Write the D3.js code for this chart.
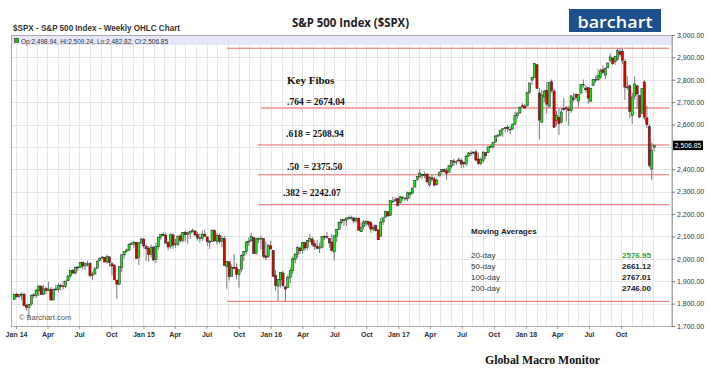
<!DOCTYPE html>
<html><head><meta charset="utf-8">
<script src="https://cdn.jsdelivr.net/npm/d3@7"></script>
<style>body{margin:0;background:#fff}svg{display:block}</style>
</head><body><svg id="c" width="710" height="372"></svg>
<script>
// ---------- DATA (weekly OHLC, S&P 500) ----------
const firstWeek = "2013-12-23";
const ohlc2013 = [[1818,1845,1818,1841],[1842,1849,1827,1831]];
const ohlc2014 = [[1832,1843,1823,1842],[1842,1851,1815,1839],[1841,1850,1790,1790],[1791,1799,1770,1783],[1783,1798,1738,1797],[1798,1840,1791,1838],[1839,1847,1824,1836],[1836,1867,1825,1859],[1858,1884,1834,1878],[1878,1883,1840,1841],[1842,1883,1839,1866],[1867,1875,1840,1858],[1859,1898,1856,1865],[1863,1873,1814,1816],[1816,1865,1816,1865],[1865,1884,1859,1863],[1864,1891,1851,1881],[1880,1889,1859,1878],[1879,1902,1862,1878],[1876,1901,1868,1901],[1902,1924,1901,1924],[1924,1949,1915,1949],[1949,1955,1934,1936],[1937,1963,1930,1963],[1963,1968,1944,1961],[1961,1985,1958,1985],[1985,1985,1952,1968],[1968,1984,1952,1978],[1978,1992,1965,1978],[1979,1985,1916,1925],[1926,1943,1905,1932],[1933,1964,1928,1955],[1958,1995,1956,1988],[1992,2006,1990,2003],[2004,2012,1998,2008],[2007,2008,1983,1986],[1986,2019,1978,2010],[2009,2009,1965,1983],[1978,1985,1926,1968],[1970,1977,1906,1906],[1905,1906,1821,1887],[1886,1965,1886,1965],[1962,2019,1940,2018],[2018,2034,2001,2032],[2032,2046,2030,2040],[2039,2071,2034,2064],[2065,2075,2064,2068],[2066,2079,2049,2075],[2074,2075,1999,2002],[2005,2077,1972,2071],[2070,2094,2069,2089],[2088,2094,2046,2058]];
const ohlc2015 = [[2055,2064,1992,2045],[2046,2056,1988,2019],[2020,2064,2005,2052],[2050,2058,1989,1995],[1997,2072,1981,2055],[2054,2097,2041,2097],[2097,2111,2085,2110],[2110,2119,2103,2105],[2105,2117,2066,2071],[2072,2080,2039,2053],[2055,2114,2045,2108],[2107,2114,2045,2061],[2064,2089,2049,2067],[2064,2103,2057,2102],[2102,2112,2073,2081],[2083,2120,2073,2118],[2119,2126,2077,2108],[2110,2121,2068,2116],[2115,2124,2089,2123],[2122,2135,2117,2126],[2125,2126,2099,2107],[2108,2121,2081,2093],[2093,2115,2072,2094],[2092,2127,2080,2110],[2110,2130,2100,2101],[2098,2099,2056,2077],[2075,2085,2044,2077],[2078,2133,2076,2127],[2126,2132,2077,2080],[2079,2115,2063,2104],[2104,2113,2068,2078],[2078,2105,2052,2092],[2090,2103,1970,1971],[1966,1989,1867,1989],[1987,1987,1903,1921],[1922,1975,1922,1961],[1963,2021,1953,1958],[1960,1980,1909,1931],[1929,1953,1872,1951],[1954,2020,1941,2015],[2016,2034,1990,2033],[2033,2080,2021,2075],[2076,2094,2058,2079],[2080,2117,2077,2099],[2096,2096,2022,2023],[2023,2097,2019,2089],[2089,2095,2070,2090],[2091,2104,2042,2092],[2091,2091,2002,2012],[2013,2077,1993,2006],[2010,2067,2005,2061],[2058,2081,2043,2044]];
const ohlc2016 = [[2038,2038,1918,1922],[1926,1950,1857,1880],[1878,1909,1812,1907],[1906,1940,1872,1940],[1937,1947,1872,1880],[1874,1881,1810,1865],[1872,1930,1872,1918],[1918,1962,1891,1948],[1947,2009,1932,2000],[1996,2023,1979,2022],[2019,2056,2003,2050],[2048,2056,2022,2036],[2038,2075,2023,2073],[2073,2075,2034,2048],[2050,2084,2039,2081],[2078,2112,2078,2092],[2088,2099,2053,2065],[2067,2083,2040,2057],[2057,2085,2043,2047],[2046,2073,2026,2052],[2052,2099,2047,2099],[2100,2106,2085,2099],[2100,2120,2089,2096],[2092,2093,2050,2071],[2075,2113,2033,2037],[2031,2103,1992,2103],[2102,2131,2074,2130],[2131,2169,2129,2162],[2162,2176,2154,2175],[2175,2177,2148,2174],[2174,2183,2148,2183],[2184,2194,2175,2184],[2184,2193,2174,2184],[2182,2188,2160,2169],[2171,2187,2162,2180],[2180,2187,2127,2128],[2121,2163,2120,2139],[2143,2175,2131,2165],[2159,2175,2145,2168],[2168,2169,2142,2154],[2161,2170,2115,2133],[2133,2149,2124,2141],[2149,2154,2122,2126],[2129,2133,2084,2085],[2100,2183,2098,2164],[2165,2189,2151,2182],[2186,2214,2184,2213],[2210,2214,2187,2192],[2194,2260,2192,2260],[2258,2278,2249,2258],[2259,2274,2255,2264],[2270,2273,2234,2239]];
const ohlc2017 = [[2251,2282,2245,2277],[2273,2280,2259,2275],[2270,2277,2259,2271],[2268,2301,2258,2295],[2286,2299,2268,2297],[2294,2320,2288,2316],[2321,2352,2319,2351],[2354,2368,2348,2367],[2366,2401,2360,2383],[2377,2380,2355,2373],[2371,2390,2360,2378],[2379,2382,2337,2344],[2330,2370,2322,2363],[2362,2378,2344,2356],[2357,2366,2328,2329],[2333,2363,2328,2349],[2370,2392,2370,2384],[2389,2400,2380,2399],[2399,2404,2384,2391],[2393,2406,2353,2382],[2387,2418,2386,2416],[2414,2441,2404,2439],[2437,2447,2415,2432],[2432,2441,2419,2433],[2442,2454,2430,2438],[2440,2450,2406,2423],[2431,2435,2407,2425],[2424,2464,2415,2459],[2459,2478,2458,2473],[2473,2484,2459,2472],[2475,2480,2466,2477],[2478,2490,2437,2441],[2446,2474,2418,2426],[2425,2454,2417,2443],[2440,2480,2429,2477],[2474,2474,2446,2461],[2474,2501,2474,2500],[2502,2509,2496,2502],[2500,2520,2491,2519],[2521,2552,2521,2549],[2548,2557,2543,2553],[2553,2575,2547,2575],[2578,2582,2545,2581],[2582,2589,2566,2588],[2588,2598,2567,2582],[2578,2594,2557,2579],[2580,2605,2577,2602],[2602,2657,2597,2642],[2640,2652,2624,2652],[2652,2680,2648,2676],[2685,2695,2673,2683],[2682,2692,2673,2674]];
const ohlc2018 = [[2683,2744,2683,2743],[2745,2787,2737,2786],[2799,2811,2777,2810],[2810,2873,2808,2873],[2867,2870,2759,2762],[2741,2763,2533,2620],[2611,2755,2605,2732],[2723,2756,2700,2747],[2753,2789,2648,2691],[2682,2787,2674,2787],[2791,2801,2741,2752],[2750,2761,2585,2588],[2619,2661,2594,2641],[2633,2672,2554,2604],[2611,2674,2605,2656],[2671,2718,2660,2670],[2675,2683,2613,2670],[2669,2683,2594,2663],[2663,2732,2652,2728],[2718,2742,2702,2713],[2735,2739,2707,2721],[2705,2737,2676,2735],[2741,2779,2735,2779],[2780,2801,2765,2780],[2763,2775,2743,2755],[2765,2765,2692,2718],[2705,2764,2698,2760],[2776,2802,2770,2801],[2797,2816,2787,2802],[2800,2849,2795,2819],[2811,2849,2806,2840],[2845,2864,2825,2833],[2821,2855,2802,2850],[2853,2877,2853,2875],[2885,2917,2878,2902],[2897,2900,2864,2872],[2880,2907,2867,2905],[2890,2941,2886,2930],[2925,2940,2903,2914],[2927,2940,2869,2886],[2882,2893,2710,2767],[2764,2816,2755,2768],[2773,2779,2628,2659],[2640,2741,2603,2723],[2727,2815,2710,2781],[2773,2775,2671,2736],[2730,2730,2631,2633],[2650,2761,2650,2760],[2790,2800,2621,2633],[2630,2685,2584,2600],[2591,2602,2409,2417],[2401,2520,2351,2486],[2499,2509,2483,2507]];

const yTicks = [1700,1800,1900,2000,2100,2200,2300,2400,2500,2600,2700,2800,2900,3000];
const yLabelTicks = [1700,1800,1900,2000,2100,2200,2300,2400,2600,2700,2800,2900,3000];
const xTickDates = ["2014-01-01","2014-04-01","2014-07-01","2014-10-01","2015-01-01","2015-04-01","2015-07-01","2015-10-01","2016-01-01","2016-04-01","2016-07-01","2016-10-01","2017-01-01","2017-04-01","2017-07-01","2017-10-01","2018-01-01","2018-04-01","2018-07-01","2018-10-01"];
const xTickLabels = ["Jan 14","Apr","Jul","Oct","Jan 15","Apr","Jul","Oct","Jan 16","Apr","Jul","Oct","Jan 17","Apr","Jul","Oct","Jan 18","Apr","Jul","Oct"];
const fibHigh = 2940.91, fibLow = 1810.10;
const fibValues = [2674.04, 2508.94, 2375.50, 2242.07];
const fibLabels = [".764 = 2674.04", ".618 = 2508.94", ".50  = 2375.50", ".382 = 2242.07"];
const maLabels = ["20-day","50-day","100-day","200-day"];
const maValues = ["2576.95","2661.12","2767.01","2746.00"];
const lastPrice = 2506.85;
const headerText = "Op:2,498.94, Hi:2,509.24, Lo:2,482.82, Cl:2,506.85";

// ---------- CHART ----------
const svg = d3.select("#c");
const X0 = 12, X1 = 672, Y0 = 35, Y1 = 326;
const parse = d3.timeParse("%Y-%m-%d");
const x = d3.scaleTime().domain([new Date(2013,11,20,12), new Date(2019,1,24)]).range([X0, X1]);
const y = d3.scaleLinear().domain([1700, 3000]).range([Y1, Y0]);

const rows = [].concat(ohlc2013, ohlc2014, ohlc2015, ohlc2016, ohlc2017, ohlc2018);
const start = parse(firstWeek);
const bars = rows.map((r, i) => ({date: d3.timeDay.offset(d3.timeMonday.offset(start, i), 4), o:r[0], h:r[1], l:r[2], c:r[3]}));

svg.append("rect").attr("width",710).attr("height",372).attr("fill","#fff");

// grid
const grid = svg.append("g").attr("stroke","#e6e6e6").attr("stroke-width",1);
grid.selectAll("line.h").data(yTicks).join("line")
  .attr("x1",X0).attr("x2",X1).attr("y1",d=>Math.round(y(d))+0.5).attr("y2",d=>Math.round(y(d))+0.5);
grid.selectAll("line.v").data(d3.timeMonth.range(new Date(2014,0,1), new Date(2019,1,1))).join("line")
  .attr("y1",Y0).attr("y2",Y1).attr("x1",d=>Math.round(x(d))+0.5).attr("x2",d=>Math.round(x(d))+0.5);

// header band
svg.append("rect").attr("x",X0).attr("y",Y0).attr("width",X1-X0).attr("height",10).attr("fill","#e4e4fa").attr("opacity",0.9);
svg.append("rect").attr("x",14.5).attr("y",38.5).attr("width",4).attr("height",4).attr("fill","#11cc11").attr("stroke","#333").attr("stroke-width",0.6);
svg.append("text").attr("x",21).attr("y",43.5).attr("font-family","Liberation Sans, Arial, sans-serif").attr("font-size",7).attr("fill","#333")
  .attr("textLength",147).attr("lengthAdjust","spacingAndGlyphs").text(headerText);

// fib lines
const fib = svg.append("g");
fib.append("line").attr("x1",227).attr("x2",669).attr("y1",y(fibHigh)).attr("y2",y(fibHigh)).attr("stroke","#e86a6a").attr("stroke-width",1);
fib.append("line").attr("x1",227).attr("x2",669).attr("y1",y(fibLow)).attr("y2",y(fibLow)).attr("stroke","#e86a6a").attr("stroke-width",1);
fib.selectAll("line.f").data(fibValues).join("line")
  .attr("x1",(d,i)=> i===0 ? 261 : 258).attr("x2",669)
  .attr("y1",d=>y(d)).attr("y2",d=>y(d))
  .attr("stroke",(d,i)=> i===0 ? "#f4a8a8" : "#e86a6a")
  .attr("stroke-width",(d,i)=> i===0 ? 2 : 1);

// candles
const cg = svg.append("g");
const bw = 2.2;
cg.selectAll("line.w").data(bars).join("line")
  .attr("x1",d=>x(d.date)).attr("x2",d=>x(d.date))
  .attr("y1",d=>y(d.h)).attr("y2",d=>y(d.l))
  .attr("stroke","#6a6a6a").attr("stroke-width",0.9);
cg.selectAll("rect").data(bars).join("rect")
  .attr("x",d=>x(d.date)-bw/2).attr("width",bw)
  .attr("y",d=>y(Math.max(d.o,d.c)))
  .attr("height",d=>Math.max(0.8, Math.abs(y(d.o)-y(d.c))))
  .attr("fill",d=> d.c >= d.o ? "#1ee01e" : "#e00000")
  .attr("stroke","#222").attr("stroke-width",0.5);

// border
svg.append("rect").attr("x",X0-0.5).attr("y",Y0+0.5).attr("width",X1-X0+0.5).attr("height",Y1-Y0).attr("fill","none").attr("stroke","#a8a8a8");

// y axis
const yAxis = d3.axisRight(y).tickValues(yLabelTicks).tickSize(3).tickPadding(2).tickFormat(d3.format(",.2f"));
const ya = svg.append("g").attr("transform",`translate(${X1},0)`).call(yAxis);
ya.select(".domain").attr("stroke","#a8a8a8");
ya.selectAll(".tick line").attr("stroke","#777");
ya.selectAll("text").attr("font-family","Liberation Sans, Arial, sans-serif").attr("font-size",7).attr("fill","#333");
// current price tag
svg.append("rect").attr("x",673).attr("y",y(lastPrice)-4.7).attr("width",30).attr("height",9.4).attr("fill","#000");
svg.append("text").attr("x",688).attr("y",y(lastPrice)+2.5).attr("text-anchor","middle").attr("font-family","Liberation Sans, Arial, sans-serif").attr("font-size",6.8).attr("fill","#fff").text(d3.format(",.2f")(lastPrice));

// x axis
const xa = svg.append("g").attr("transform",`translate(0,${Y1})`)
  .call(d3.axisBottom(x).tickValues(xTickDates.map(parse)).tickSize(3).tickPadding(3).tickFormat((d,i)=>xTickLabels[i]));
xa.select(".domain").remove();
xa.selectAll(".tick line").attr("stroke","#999");
xa.selectAll("text").attr("font-family","Liberation Sans, Arial, sans-serif").attr("font-size",7).attr("font-weight","bold").attr("fill","#333");

// copyright
svg.append("text").attr("x",19).attr("y",320).attr("font-family","Liberation Sans, Arial, sans-serif").attr("font-size",7.5).attr("fill","#555").text("© Barchart.com");

// titles
svg.append("text").attr("x",13).attr("y",30.5).attr("font-family","Liberation Sans, Arial, sans-serif").attr("font-size",8.2).attr("font-weight","bold").attr("fill","#333")
  .attr("textLength",167).attr("lengthAdjust","spacingAndGlyphs").text("$SPX - S&P 500 Index - Weekly OHLC Chart");
svg.append("text").attr("x",292).attr("y",27).attr("font-family","Open Sans, sans-serif").attr("font-size",11.5).attr("font-weight",700).attr("fill","#222")
  .attr("textLength",117).attr("lengthAdjust","spacingAndGlyphs").text("S&P 500 Index ($SPX)");

// logo
svg.append("rect").attr("x",569).attr("y",9).attr("width",92).attr("height",23).attr("fill","#1d4f8b");
svg.append("text").attr("x",615).attr("y",27.5).attr("text-anchor","middle").attr("font-family","Open Sans, sans-serif").attr("font-size",17).attr("font-weight",600).attr("fill","#fff")
  .attr("textLength",75).attr("lengthAdjust","spacingAndGlyphs").text("barchart");

// fib labels
const serif = "Liberation Serif, Times New Roman, serif";
svg.append("text").attr("x",287).attr("y",84).attr("font-family",serif).attr("font-size",11).attr("font-weight","bold").attr("fill","#111").text("Key Fibos");
const fibLabelX = [287, 286, 287, 283];
const fibLabelY = [105, 137, 170, 196];
svg.selectAll("text.fl").data(fibLabels).join("text")
  .attr("x",(d,i)=>fibLabelX[i]).attr("y",(d,i)=>fibLabelY[i])
  .attr("font-family",serif).attr("font-size",9.5).attr("font-weight","bold").attr("fill","#111")
  .style("white-space","pre").attr("xml:space","preserve").text(d=>d);

// moving averages
const sans = "Liberation Sans, Arial, sans-serif";
svg.append("text").attr("x",471).attr("y",234).attr("font-family",sans).attr("font-size",8).attr("font-weight","bold").attr("fill","#222").text("Moving Averages");
const maY = [257.5, 268.7, 279.8, 290.8];
svg.selectAll("text.ml").data(maLabels).join("text")
  .attr("x",471).attr("y",(d,i)=>maY[i]).attr("font-family",sans).attr("font-size",8).attr("fill","#333").text(d=>d);
svg.selectAll("text.mv").data(maValues).join("text")
  .attr("x",622).attr("y",(d,i)=>maY[i]).attr("font-family",sans).attr("font-size",8).attr("font-weight","bold")
  .attr("fill",(d,i)=> i===0 ? "#3a9a3a" : "#222").text(d=>d);

// footer
svg.append("text").attr("x",485).attr("y",364).attr("font-family",serif).attr("font-size",12).attr("font-weight","bold").attr("fill","#111")
  .attr("textLength",115).attr("lengthAdjust","spacingAndGlyphs").text("Global Macro Monitor");
</script></body></html>
